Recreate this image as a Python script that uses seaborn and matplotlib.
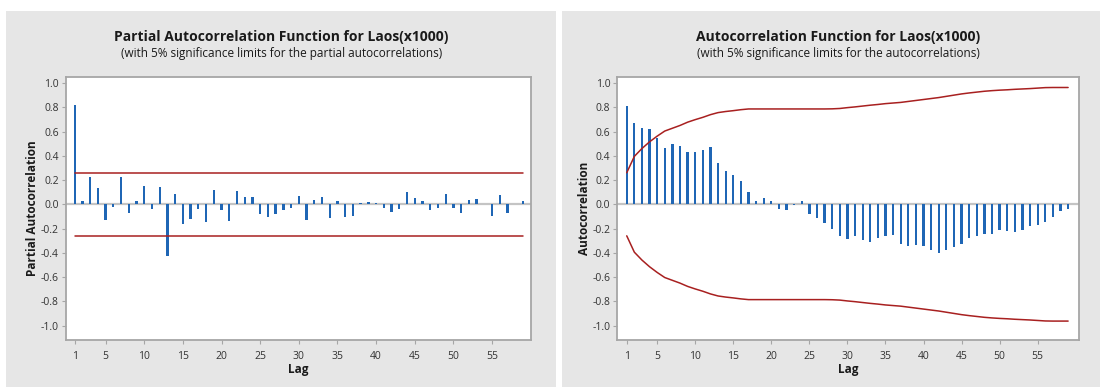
import numpy as np
import matplotlib
matplotlib.use("Agg")
import matplotlib.pyplot as plt
from matplotlib.patches import Rectangle
import seaborn as sns

# ---- data -------------------------------------------------------------
lags = list(range(1, 60))

pacf = [0.821, 0.030, 0.229, 0.138, -0.127, -0.022, 0.223, -0.074, 0.025, 0.152,
        -0.041, 0.143, -0.427, 0.083, -0.163, -0.124, -0.041, -0.149, 0.118, -0.050,
        -0.135, 0.113, 0.063, 0.058, -0.083, -0.107, -0.083, -0.050, -0.033, 0.072,
        -0.127, 0.039, 0.058, -0.116, 0.030, -0.102, -0.096, 0.014, 0.019, 0.014,
        -0.028, -0.063, -0.041, 0.105, 0.052, 0.025, -0.050, -0.030, 0.085, -0.030,
        -0.069, 0.039, 0.047, 0.005, -0.096, 0.077, -0.074, 0.004, 0.030]

pacf_limit = 0.26

acf = [0.808, 0.669, 0.631, 0.623, 0.544, 0.465, 0.493, 0.479, 0.433, 0.433,
       0.446, 0.473, 0.337, 0.278, 0.242, 0.188, 0.098, 0.024, 0.049, 0.030,
       -0.038, -0.044, -0.005, 0.030, -0.076, -0.117, -0.152, -0.207, -0.258, -0.283,
       -0.264, -0.291, -0.307, -0.275, -0.261, -0.256, -0.329, -0.340, -0.335, -0.340,
       -0.378, -0.400, -0.373, -0.354, -0.329, -0.280, -0.264, -0.242, -0.242, -0.212,
       -0.218, -0.229, -0.210, -0.182, -0.171, -0.144, -0.106, -0.057, -0.038]

acf_limit = [0.260, 0.395, 0.460, 0.515, 0.562, 0.604, 0.627, 0.650, 0.677, 0.698,
             0.717, 0.739, 0.756, 0.765, 0.772, 0.780, 0.786, 0.786, 0.786, 0.786,
             0.786, 0.786, 0.786, 0.786, 0.786, 0.786, 0.786, 0.787, 0.790, 0.797,
             0.803, 0.810, 0.817, 0.823, 0.830, 0.835, 0.840, 0.848, 0.856, 0.864,
             0.872, 0.880, 0.890, 0.900, 0.910, 0.918, 0.925, 0.932, 0.937, 0.941,
             0.944, 0.948, 0.951, 0.954, 0.958, 0.962, 0.963, 0.963, 0.963]

x_ticks = [1, 5, 10, 15, 20, 25, 30, 35, 40, 45, 50, 55]
y_ticks = [-1.0, -0.8, -0.6, -0.4, -0.2, 0.0, 0.2, 0.4, 0.6, 0.8, 1.0]

titles = ["Partial Autocorrelation Function for Laos(x1000)",
          "Autocorrelation Function for Laos(x1000)"]
subtitles = ["(with 5% significance limits for the partial autocorrelations)",
             "(with 5% significance limits for the autocorrelations)"]
ylabels = ["Partial Autocorrelation", "Autocorrelation"]

# ---- style ------------------------------------------------------------
sns.set_theme(style="white")
plt.rcParams["font.family"] = ["Open Sans", "DejaVu Sans"]
plt.rcParams["axes.unicode_minus"] = False

BAR = "#1f66b5"
RED = "#a82020"
PANEL = "#e6e6e6"
FRAME = "#a6a6a6"
TXT = "#333333"

W, H = 1106, 387
fig = plt.figure(figsize=(W / 100, H / 100), dpi=100, facecolor="white")

# grey panels behind each graph
for x0, x1 in [(6, 556), (562, 1100)]:
    fig.patches.append(Rectangle((x0 / W, 0), (x1 - x0) / W, 1 - 11 / H,
                                 transform=fig.transFigure, facecolor=PANEL,
                                 edgecolor="none", zorder=-10))


def px_axes(left, top, right, bottom):
    return fig.add_axes([left / W, 1 - bottom / H, (right - left) / W, (bottom - top) / H])


ax1 = px_axes(65.7, 76.7, 530.7, 340)
ax2 = px_axes(617.3, 76.7, 1079.3, 340)


def style_axes(ax, xlim):
    ax.set_facecolor("white")
    ax.set_xlim(*xlim)
    ax.set_ylim(-1.119, 1.052)
    ax.set_xticks(x_ticks)
    ax.set_xticklabels([str(t) for t in x_ticks])
    ax.set_yticks(y_ticks)
    ax.set_yticklabels([f"{t:.1f}" for t in y_ticks])
    ax.tick_params(axis="both", direction="out", length=3, width=0.8, color=FRAME,
                   labelsize=7.5, labelcolor=TXT, pad=2, bottom=True, left=True)
    ax.tick_params(axis="x", pad=5)
    for s in ax.spines.values():
        s.set_color(FRAME)
        s.set_linewidth(1.3)
    ax.axhline(0, color="#c4c4c4", lw=1.6, zorder=0.5)
    ax.set_xlabel("Lag", fontsize=8.5, fontweight="bold", color="#1a1a1a", labelpad=1)


# PACF panel
style_axes(ax1, (-0.16, 60.0))
sns.barplot(x=lags, y=pacf, native_scale=True, width=0.3, color=BAR, saturation=1,
            errorbar=None, linewidth=0, ax=ax1, zorder=2)
for sign in (1, -1):
    sns.lineplot(x=[lags[0], lags[-1]], y=[sign * pacf_limit] * 2, color=RED, lw=1.1,
                 ax=ax1, zorder=3)
ax1.set_ylabel(ylabels[0], fontsize=8.5, fontweight="bold", color="#1a1a1a", labelpad=1)

# ACF panel
style_axes(ax2, (-0.24, 60.47))
sns.barplot(x=lags, y=acf, native_scale=True, width=0.3, color=BAR, saturation=1,
            errorbar=None, linewidth=0, ax=ax2, zorder=2)
sns.lineplot(x=lags, y=acf_limit, color=RED, lw=1.1, ax=ax2, zorder=3)
sns.lineplot(x=lags, y=[-v for v in acf_limit], color=RED, lw=1.1, ax=ax2, zorder=3)
ax2.set_ylabel(ylabels[1], fontsize=8.5, fontweight="bold", color="#1a1a1a", labelpad=1)

for ax in (ax1, ax2):
    ax.set_xlim(ax.get_xlim())

# titles
for cx, t, st in [(281.5, titles[0], subtitles[0]), (838.5, titles[1], subtitles[1])]:
    fig.text(cx / W, 1 - 37.5 / H, t, ha="center", va="center", fontsize=10,
             fontweight="bold", color="#1a1a1a")
    fig.text(cx / W, 1 - 53.5 / H, st, ha="center", va="center", fontsize=8.5,
             color="#1a1a1a")

fig.savefig("out.png", dpi=100, facecolor="white")
